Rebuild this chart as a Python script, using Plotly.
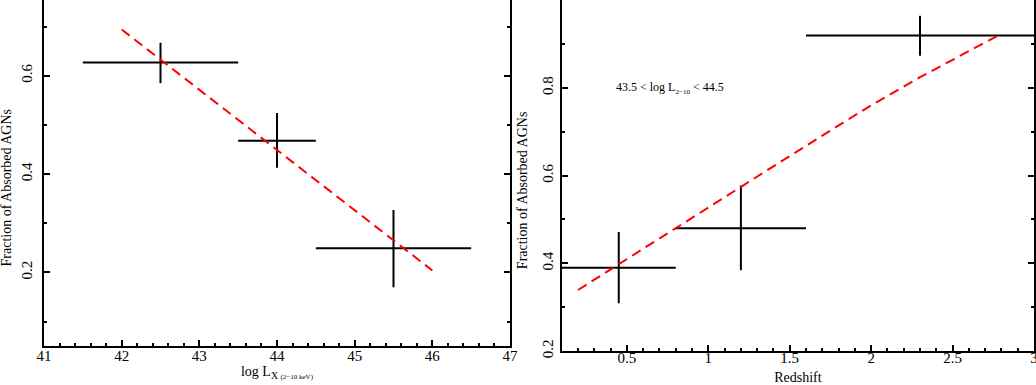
import plotly.graph_objects as go

# Left panel: luminosity bins
lum_x = [42.5, 44.0, 45.5]
lum_x_lo = [41.5, 43.5, 44.5]
lum_x_hi = [43.5, 44.5, 46.5]
lum_frac = [0.627, 0.468, 0.249]
lum_err_up = [0.667, 0.524, 0.327]
lum_err_lo = [0.585, 0.413, 0.170]
lum_fit_x = [42.0, 46.0]
lum_fit_y = [0.694, 0.204]

# Right panel: redshift bins
z_x = [0.45, 1.2, 2.3]
z_x_lo = [0.1, 0.8, 1.6]
z_x_hi = [0.8, 1.6, 3.0]
z_frac = [0.39, 0.48, 0.919]
z_err_up = [0.471, 0.577, 0.964]
z_err_lo = [0.309, 0.384, 0.873]
z_fit_x = [0.2, 0.5, 0.8, 1.1, 1.4, 1.7, 2.0, 2.3, 2.6, 2.8]
z_fit_y = [0.339, 0.410, 0.481, 0.551, 0.621, 0.691, 0.760, 0.824, 0.884, 0.923]

FONT = "Liberation Serif"

fig = go.Figure()


def add_points(x, xlo, xhi, y, ylo, yhi, xa, ya):
    fig.add_trace(go.Scatter(
        x=x, y=y, mode="markers", xaxis=xa, yaxis=ya,
        marker=dict(size=2, color="black"),
        error_x=dict(type="data", symmetric=False,
                     array=[h - v for h, v in zip(xhi, x)],
                     arrayminus=[v - l for l, v in zip(xlo, x)],
                     width=0, thickness=2, color="black"),
        error_y=dict(type="data", symmetric=False,
                     array=[h - v for h, v in zip(yhi, y)],
                     arrayminus=[v - l for l, v in zip(ylo, y)],
                     width=0, thickness=2, color="black"),
        showlegend=False, hoverinfo="skip"))


add_points(lum_x, lum_x_lo, lum_x_hi, lum_frac, lum_err_lo, lum_err_up, "x", "y")
add_points(z_x, z_x_lo, z_x_hi, z_frac, z_err_lo, z_err_up, "x2", "y2")

fig.add_trace(go.Scatter(x=lum_fit_x, y=lum_fit_y, mode="lines", xaxis="x", yaxis="y",
                         line=dict(color="red", width=2, dash="10px,6px"),
                         showlegend=False, hoverinfo="skip"))
fig.add_trace(go.Scatter(x=z_fit_x, y=z_fit_y, mode="lines", xaxis="x2", yaxis="y2",
                         line=dict(color="red", width=2, dash="10px,6px"),
                         showlegend=False, hoverinfo="skip"))

axis_common = dict(showline=True, linecolor="black", linewidth=2, ticks="inside",
                   tickcolor="black", tickwidth=1.5, ticklen=6, showgrid=False,
                   zeroline=False, automargin=False, ticklabeloverflow="allow",
                   tickfont=dict(family=FONT, size=15, color="black"))
minor_common = dict(ticks="inside", ticklen=3, tickcolor="black", tickwidth=1.5)

ytitle = "Fraction of Absorbed AGNs"

fig.update_layout(
    width=1036, height=385,
    margin=dict(l=44, r=2, t=0, b=34),
    paper_bgcolor="white", plot_bgcolor="white",
    font=dict(family=FONT, color="black"),
    xaxis=dict(domain=[0, 0.4707], range=[41, 47], dtick=1, anchor="y",
               minor=dict(dtick=0.2, **minor_common),
               title=dict(text="log L<sub>X <span style='font-size:7px'>(2−10 keV)</span></sub>",
                          font=dict(family=FONT, size=14), standoff=1),
               ticklabelstandoff=-5,
               **axis_common),
    yaxis=dict(domain=[0.0151, 1], range=[0.051, 0.754], tickvals=[0.2, 0.4, 0.6],
               ticktext=["0.2", "0.4", "0.6"], anchor="x", mirror="ticks", tickangle=-90,
               minor=dict(dtick=0.1, **minor_common),
               ticklabelstandoff=4,
               **axis_common),
    xaxis2=dict(domain=[0.523, 1.0], range=[0.1, 3.0], tickvals=[0.5, 1, 1.5, 2, 2.5, 3],
                ticktext=["0.5", "1", "1.5", "2", "2.5", "3"], anchor="y2",
                minor=dict(dtick=0.1, **minor_common),
                title=dict(text="Redshift", font=dict(family=FONT, size=14), standoff=15),
                ticklabelstandoff=-8,
                **axis_common),
    yaxis2=dict(domain=[0, 1], range=[0.2, 1.0], tickvals=[0.2, 0.4, 0.6, 0.8],
                ticktext=["0.2", "0.4", "0.6", "0.8"], anchor="x2", mirror="ticks", tickangle=-90,
                minor=dict(dtick=0.1, **minor_common),
                ticklabelstandoff=1,
                **axis_common),
    annotations=[
        dict(x=0.42, y=0.8, xref="x2", yref="y2", xanchor="left", yanchor="middle",
             showarrow=False,
             text="43.5 < log L<sub><span style='font-size:7px'>2−10</span></sub> < 44.5",
             font=dict(family=FONT, size=12, color="black")),
        dict(x=-0.0374, y=0.4658, xref="paper", yref="paper", xanchor="center",
             yanchor="middle", textangle=-90, showarrow=False, text=ytitle,
             font=dict(family=FONT, size=14, color="black")),
        dict(x=0.4835, y=0.4573, xref="paper", yref="paper", xanchor="center",
             yanchor="middle", textangle=-90, showarrow=False, text=ytitle,
             font=dict(family=FONT, size=14, color="black")),
    ],
)

fig.write_html("out.html", config={"displayModeBar": False},
               post_script="document.body.style.margin='0px';")
